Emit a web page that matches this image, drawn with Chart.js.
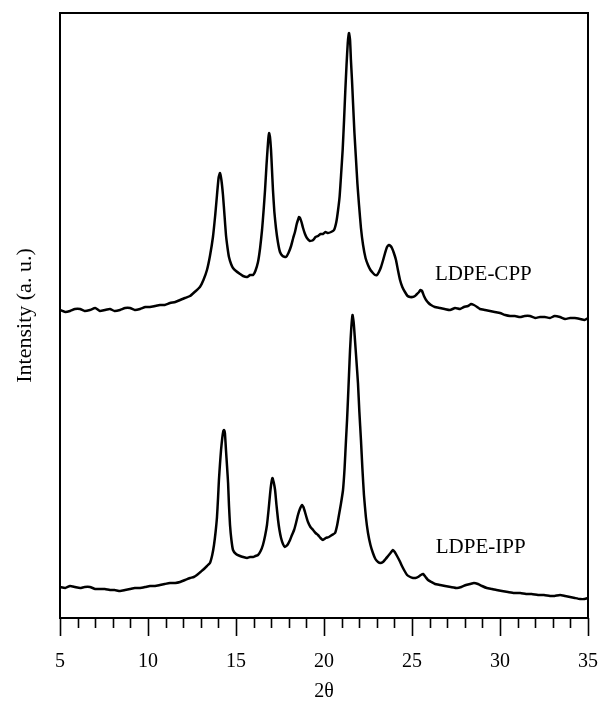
<!DOCTYPE html>
<html>
<head>
<meta charset="utf-8">
<script src="https://cdn.jsdelivr.net/npm/chart.js@4/dist/chart.umd.min.js"></script>
<style>
  html, body { margin: 0; padding: 0; background: #fff; }
  canvas { display: block; }
</style>
</head>
<body>
<canvas id="xrdChart" width="603" height="702"></canvas>
<script>
// [2theta, intensity (a.u.)]
const cppPoints = [
  [5.0, 308], [5.3, 306], [5.57, 307], [5.85, 309], [6.14, 309], [6.4, 307], [6.7, 308], [7.0, 310], [7.27, 307],
  [7.55, 308], [7.84, 309], [8.1, 307], [8.41, 308], [8.7, 310], [8.98, 310], [9.25, 308], [9.55, 309], [9.85, 311],
  [10.11, 311], [10.4, 312], [10.68, 313], [10.95, 313], [11.25, 315], [11.55, 316], [11.82, 318], [12.1, 320],
  [12.39, 322], [12.65, 326], [12.95, 331], [13.15, 338], [13.35, 348], [13.52, 362], [13.69, 381], [13.82, 403],
  [13.92, 423], [14.01, 440], [14.09, 445], [14.17, 438], [14.26, 423], [14.35, 402], [14.43, 383], [14.52, 370],
  [14.60, 361], [14.72, 354], [14.83, 350], [15.0, 347], [15.23, 344], [15.4, 342], [15.63, 341], [15.8, 343],
  [15.97, 343], [16.1, 347], [16.25, 356], [16.37, 370], [16.48, 388], [16.57, 408], [16.65, 428], [16.73, 452],
  [16.79, 468], [16.84, 480], [16.88, 485], [16.93, 481], [16.99, 468], [17.04, 450], [17.10, 428], [17.18, 406],
  [17.27, 390], [17.38, 376], [17.50, 366], [17.65, 362], [17.84, 361], [17.98, 365], [18.13, 372], [18.25, 380],
  [18.35, 386], [18.45, 394], [18.52, 398], [18.58, 401], [18.64, 400], [18.72, 396], [18.81, 390], [18.92, 384],
  [19.03, 380], [19.2, 377], [19.38, 378], [19.52, 381], [19.66, 382], [19.8, 384], [19.94, 384], [20.08, 386],
  [20.23, 385], [20.4, 386], [20.57, 388], [20.7, 396], [20.80, 408], [20.89, 422], [20.97, 443], [21.06, 468],
  [21.14, 498], [21.21, 527], [21.28, 553], [21.35, 575], [21.42, 585], [21.48, 578], [21.53, 558], [21.59, 538],
  [21.65, 515], [21.73, 485], [21.82, 458], [21.9, 434], [21.99, 413], [22.1, 390], [22.22, 373], [22.36, 360],
  [22.50, 353], [22.64, 348], [22.78, 345], [22.9, 343], [23.01, 343], [23.12, 346], [23.24, 351], [23.36, 358],
  [23.47, 365], [23.58, 371], [23.69, 373], [23.78, 372], [23.86, 370], [23.97, 365], [24.09, 358], [24.2, 348],
  [24.32, 338], [24.45, 331], [24.60, 326], [24.75, 322], [24.89, 321], [25.03, 321], [25.17, 322], [25.28, 324],
  [25.40, 326], [25.48, 328], [25.57, 327], [25.68, 322], [25.80, 318], [25.94, 315], [26.08, 313], [26.3, 311],
  [26.59, 310], [26.85, 309], [27.16, 308], [27.45, 310], [27.73, 309], [27.95, 311], [28.18, 312], [28.35, 314],
  [28.52, 313], [28.7, 311], [28.86, 309], [29.15, 308], [29.43, 307], [29.7, 306], [30.0, 305], [30.3, 303],
  [30.57, 302], [30.85, 302], [31.14, 301], [31.4, 302], [31.70, 302], [32.0, 300], [32.27, 301], [32.55, 301],
  [32.84, 300], [33.1, 302], [33.41, 301], [33.7, 299], [33.98, 300], [34.25, 300], [34.55, 299], [34.8, 298],
  [35.0, 300]
];

const ippPoints = [
  [5.0, 31], [5.3, 30], [5.57, 32], [5.85, 31], [6.14, 30], [6.4, 31], [6.7, 31], [7.0, 29], [7.27, 29], [7.55, 29],
  [7.84, 28], [8.1, 28], [8.41, 27], [8.7, 28], [8.98, 29], [9.25, 30], [9.55, 30], [9.85, 31], [10.11, 32],
  [10.4, 32], [10.68, 33], [10.95, 34], [11.25, 35], [11.55, 35], [11.82, 36], [12.1, 38], [12.39, 40], [12.6, 41],
  [12.78, 43], [12.98, 46], [13.18, 49], [13.35, 52], [13.52, 55], [13.65, 63], [13.75, 73], [13.84, 86],
  [13.92, 101], [13.98, 120], [14.03, 138], [14.09, 154], [14.15, 168], [14.22, 180], [14.28, 187], [14.32, 188],
  [14.37, 185], [14.43, 168], [14.49, 152], [14.55, 135], [14.6, 113], [14.66, 93], [14.74, 78], [14.83, 68],
  [15.0, 64], [15.23, 62], [15.4, 61], [15.63, 60], [15.8, 61], [15.97, 61], [16.1, 62], [16.25, 63], [16.4, 67],
  [16.53, 73], [16.65, 82], [16.76, 93], [16.85, 108], [16.93, 123], [17.0, 134], [17.07, 140], [17.14, 136],
  [17.22, 128], [17.3, 113], [17.39, 98], [17.47, 88], [17.56, 80], [17.67, 74], [17.78, 71], [17.92, 73],
  [18.07, 78], [18.18, 83], [18.30, 88], [18.41, 95], [18.52, 103], [18.63, 109], [18.75, 113], [18.83, 111],
  [18.92, 106], [19.0, 101], [19.09, 96], [19.23, 91], [19.38, 88], [19.52, 85], [19.66, 83], [19.8, 80],
  [19.94, 78], [20.1, 80], [20.28, 81], [20.45, 83], [20.63, 85], [20.75, 93], [20.85, 103], [20.96, 114],
  [21.08, 128], [21.17, 150], [21.25, 178], [21.31, 198], [21.36, 218], [21.42, 243], [21.48, 268], [21.55, 290],
  [21.62, 303], [21.69, 295], [21.76, 278], [21.84, 258], [21.93, 235], [22.01, 206], [22.10, 178], [22.18, 150],
  [22.27, 123], [22.38, 101], [22.50, 85], [22.64, 73], [22.78, 65], [22.92, 59], [23.07, 56], [23.2, 55],
  [23.35, 56], [23.5, 59], [23.64, 62], [23.78, 65], [23.92, 68], [24.02, 66], [24.15, 62], [24.3, 57], [24.43, 52],
  [24.58, 47], [24.72, 43], [24.9, 41], [25.06, 40], [25.2, 40], [25.34, 41], [25.5, 43], [25.63, 44], [25.77, 41],
  [25.91, 38], [26.1, 36], [26.31, 34], [26.6, 33], [26.88, 32], [27.2, 31], [27.56, 30], [27.8, 31], [28.07, 33],
  [28.3, 34], [28.52, 35], [28.75, 34], [28.98, 32], [29.25, 30], [29.55, 29], [29.8, 28], [30.11, 27], [30.45, 26],
  [30.80, 25], [31.15, 25], [31.48, 24], [31.8, 24], [32.16, 23], [32.5, 23], [32.84, 22], [33.1, 22], [33.41, 23],
  [33.7, 22], [33.98, 21], [34.25, 20], [34.55, 19], [34.8, 19], [35.0, 20]
];

const xTicks = [5, 10, 15, 20, 25, 30, 35];
const sampleNames = ['LDPE-CPP', 'LDPE-IPP'];
const labelTheta = [26.3, 26.35];
const labelIntensity = [344, 71];

const toPoints = (pairs) => pairs.map(p => ({ x: p[0], y: p[1] }));

const serif = '"Liberation Serif", "DejaVu Serif", serif';

const framePlugin = {
  id: 'frame',
  afterDraw(chart) {
    const { ctx, chartArea: a, scales } = chart;
    const xs = scales.x;
    ctx.save();
    ctx.strokeStyle = '#000';
    ctx.lineWidth = 2;
    ctx.strokeRect(a.left, a.top, a.right - a.left, a.bottom - a.top);
    // minor ticks every 1 degree
    ctx.lineWidth = 1.6;
    ctx.beginPath();
    for (let v = 6; v < 35; v++) {
      if (v % 5 === 0) continue;
      const px = Math.round(xs.getPixelForValue(v)) + 0.5;
      ctx.moveTo(px, a.bottom);
      ctx.lineTo(px, a.bottom + 10);
    }
    ctx.stroke();
    // sample labels
    ctx.fillStyle = '#000';
    ctx.font = '21px ' + serif;
    ctx.textAlign = 'left';
    ctx.textBaseline = 'middle';
    sampleNames.forEach((name, i) => {
      ctx.fillText(name, xs.getPixelForValue(labelTheta[i]), scales.y.getPixelForValue(labelIntensity[i]));
    });
    ctx.restore();
  }
};

// small tension keeps the peaks round and avoids the per-pixel fast path
const lineStyle = {
  borderColor: '#000',
  borderWidth: 2.5,
  pointRadius: 0,
  tension: 0.15,
  fill: false
};

const ctx = document.getElementById('xrdChart').getContext('2d');
new Chart(ctx, {
  type: 'line',
  data: {
    datasets: [
      Object.assign({ label: sampleNames[0], data: toPoints(cppPoints) }, lineStyle),
      Object.assign({ label: sampleNames[1], data: toPoints(ippPoints) }, lineStyle)
    ]
  },
  options: {
    responsive: false,
    devicePixelRatio: 1,
    animation: false,
    layout: { padding: { top: 13, right: 15, left: 0, bottom: 0 } },
    plugins: {
      legend: { display: false },
      tooltip: { enabled: false }
    },
    scales: {
      x: {
        type: 'linear',
        min: 5,
        max: 35,
        afterBuildTicks: (scale) => { scale.ticks = xTicks.map(v => ({ value: v })); },
        afterFit: (scale) => {
          scale.height = 84;
          scale.paddingLeft = 0;
          scale.paddingRight = 0;
        },
        border: { display: false },
        grid: {
          display: true,
          drawOnChartArea: false,
          drawTicks: true,
          tickLength: 18,
          tickColor: '#000',
          tickWidth: 1.6
        },
        ticks: {
          color: '#000',
          padding: 14,
          maxRotation: 0,
          font: { family: serif, size: 20 }
        },
        title: {
          display: true,
          text: '2θ',
          color: '#000',
          padding: 0,
          font: { family: serif, size: 20, lineHeight: 1 }
        }
      },
      y: {
        min: 0,
        max: 605,
        afterFit: (scale) => { scale.width = 60; },
        border: { display: false },
        grid: { display: false },
        ticks: { display: false },
        title: {
          display: true,
          text: 'Intensity (a. u.)',
          color: '#000',
          padding: { top: 14, bottom: 0 },
          font: { family: serif, size: 22, lineHeight: 1 }
        }
      }
    }
  },
  plugins: [framePlugin]
});
</script>
</body>
</html>
